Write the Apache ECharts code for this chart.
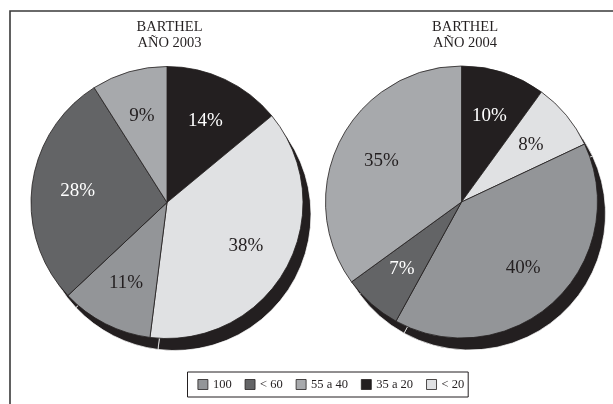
<!DOCTYPE html>
<html>
<head>
<meta charset="utf-8">
<script src="https://cdn.jsdelivr.net/npm/echarts@6/dist/echarts.min.js"></script>
<style>
  html, body { margin: 0; padding: 0; background: #ffffff; }
  #chart { width: 613px; height: 404px; }
</style>
</head>
<body>
<div id="chart"></div>
<script>
// Barthel index groups, legend order
const legendOrder = ['100', '< 60', '55 a 40', '35 a 20', '< 20'];
// Slice order, clockwise from 12 o'clock
const sliceOrder = ['35 a 20', '< 20', '100', '< 60', '55 a 40'];
// Percentages per year, following sliceOrder
const values2003 = [14, 38, 11, 28, 9];
const values2004 = [10, 8, 40, 7, 35];
const chartTitles = ['BARTHEL\nAÑO 2003', 'BARTHEL\nAÑO 2004'];

const fills = {
  '100': '#939598',
  '< 60': '#636466',
  '55 a 40': '#a7a9ac',
  '35 a 20': '#231f20',
  '< 20': '#e0e1e3'
};
const labelInk = {
  '100': '#231f20',
  '< 60': '#ffffff',
  '55 a 40': '#231f20',
  '35 a 20': '#ffffff',
  '< 20': '#231f20'
};

const SERIF = '"Liberation Serif", "Times New Roman", serif';
const INK = '#231f20';
const R = 136;
const pies = [
  { values: values2003, cx: 167, cy: 202.5, title: chartTitles[0], titleX: 169.5 },
  { values: values2004, cx: 461.5, cy: 202, title: chartTitles[1], titleX: 465 }
];
const SHADOW_DX = 8, SHADOW_DY = 12;

const series = [];
pies.forEach(function (p) {
  // dark rim offset down-right, gives the disc its depth
  series.push({
    type: 'pie',
    silent: true,
    center: [p.cx + SHADOW_DX, p.cy + SHADOW_DY],
    radius: R,
    startAngle: 90,
    clockwise: true,
    label: { show: false },
    labelLine: { show: false },
    itemStyle: { color: INK, borderColor: '#ffffff', borderWidth: 0.7 },
    emphasis: { disabled: true },
    data: p.values.map(function (v) { return { value: v }; })
  });
  // the pie itself
  series.push({
    type: 'pie',
    center: [p.cx, p.cy],
    radius: R,
    startAngle: 90,
    clockwise: true,
    label: { show: false },
    labelLine: { show: false },
    itemStyle: { borderColor: INK, borderWidth: 0.8 },
    emphasis: { disabled: true },
    data: p.values.map(function (v, i) {
      const name = sliceOrder[i];
      return { name: name, value: v, itemStyle: { color: fills[name] } };
    })
  });
  // percentage labels on a transparent ring
  series.push({
    type: 'pie',
    silent: true,
    center: [p.cx, p.cy],
    radius: [38, R],
    startAngle: 90,
    clockwise: true,
    labelLine: { show: false },
    itemStyle: { color: 'rgba(0,0,0,0)', borderWidth: 0 },
    emphasis: { disabled: true },
    label: {
      show: true,
      position: 'inside',
      formatter: '{c}%',
      fontFamily: SERIF,
      fontSize: 19
    },
    data: p.values.map(function (v, i) {
      const name = sliceOrder[i];
      return { value: v, label: { color: labelInk[name] } };
    })
  });
});

const graphics = [
  {
    type: 'polyline',
    silent: true,
    shape: { points: [[10, 520], [10, 11], [720, 11]] },
    style: { stroke: '#3a3a3a', lineWidth: 1.6, fill: null }
  }
];
pies.forEach(function (p) {
  graphics.push({
    type: 'text',
    silent: true,
    x: p.titleX,
    y: 19.5,
    style: {
      text: p.title,
      fontFamily: SERIF,
      fontSize: 14.5,
      lineHeight: 15.5,
      fill: INK,
      align: 'center',
      verticalAlign: 'top'
    }
  });
});

const chart = echarts.init(document.getElementById('chart'), null, { renderer: 'canvas' });
chart.setOption({
  animation: false,
  backgroundColor: '#ffffff',
  legend: {
    data: legendOrder,
    left: 187.5,
    top: 372,
    orient: 'horizontal',
    icon: 'rect',
    itemWidth: 10,
    itemHeight: 10,
    itemGap: 13,
    padding: [6, 4, 6, 10],
    borderColor: INK,
    borderWidth: 1,
    selectedMode: false,
    itemStyle: { borderColor: INK, borderWidth: 0.8 },
    textStyle: { fontFamily: SERIF, fontSize: 12.5, color: INK }
  },
  graphic: graphics,
  series: series
});
</script>
</body>
</html>
